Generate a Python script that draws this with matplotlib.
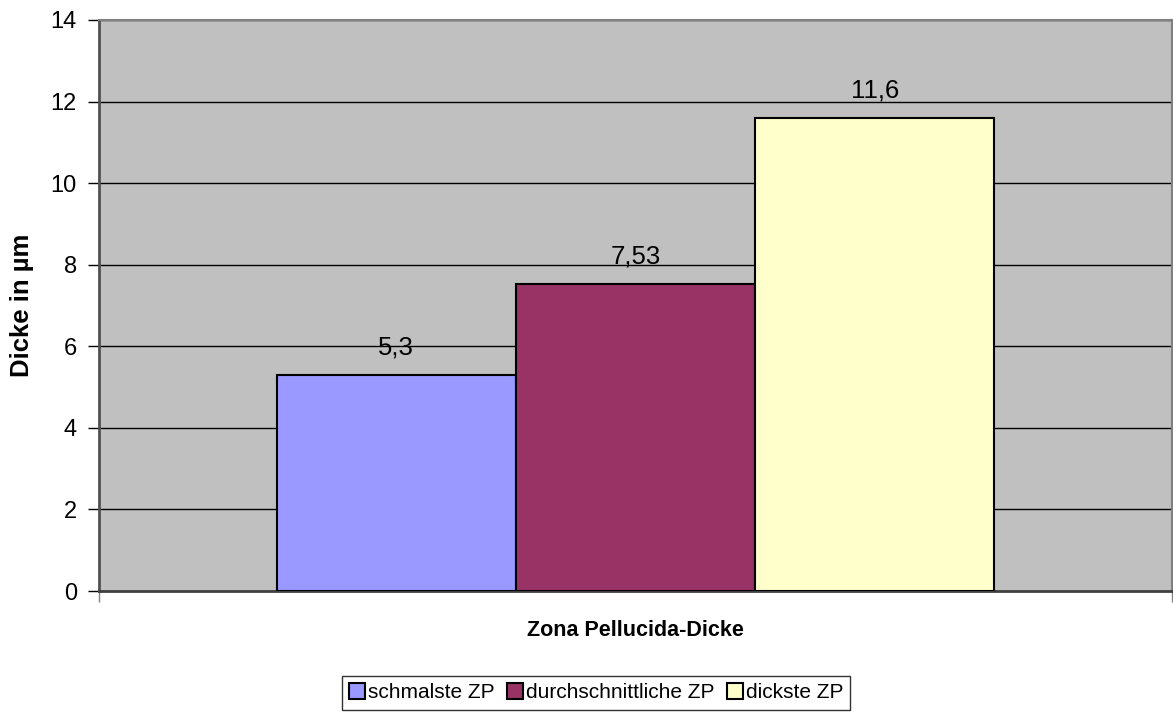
import matplotlib
matplotlib.use("Agg")
import matplotlib.pyplot as plt
from matplotlib.patches import Patch

series = ["schmalste ZP", "durchschnittliche ZP", "dickste ZP"]
values = [5.3, 7.53, 11.6]
labels = ["5,3", "7,53", "11,6"]
colors = ["#9999FF", "#993366", "#FFFFCC"]
yticks = [0, 2, 4, 6, 8, 10, 12, 14]

plt.rcParams['font.family'] = ['Liberation Sans', 'DejaVu Sans']

fig = plt.figure(figsize=(11.73, 7.13), dpi=100)
ax = fig.add_axes([99/1173, 1-591/713, (1172-99)/1173, (591-20)/713])
ax.set_facecolor("#C0C0C0")

x = [0, 1, 2]
half = 1072/239/2
ax.set_xlim(1-half, 1+half)
ax.set_ylim(0, 14)
ax.set_yticks(yticks)
ax.yaxis.grid(True, color="black", linewidth=1)
ax.set_axisbelow(True)

bars = ax.bar(x, values, width=1.0, color=colors, edgecolor="black", linewidth=1.5, zorder=3)
for xi, v, lab in zip(x, values, labels):
    ax.annotate(lab, (xi, v), xytext=(0, 14.4), textcoords="offset points",
                ha="center", va="baseline", fontsize=18.5)

ax.set_xticks([1-half, 1+half])
ax.set_xticklabels([])
ax.tick_params(axis='x', direction='out', length=8, width=1, color="#808080")
ax.tick_params(axis='y', direction='out', length=8, width=1, labelsize=17, pad=8)

for s in ["top", "right"]:
    ax.spines[s].set_color("#808080")
    ax.spines[s].set_linewidth(1.5)
ax.spines["left"].set_color("#505050")
ax.spines["left"].set_linewidth(2)
ax.spines["bottom"].set_color("#404040")
ax.spines["bottom"].set_linewidth(2)

ax.set_ylabel("Dicke in µm", fontsize=18.5, fontweight="bold", va="center")
ax.yaxis.set_label_coords(-(99-22)/1072, 0.5)
fig.text((99+1172)/2/1173, 1-631/713, "Zona Pellucida-Dicke", ha="center", va="center",
         fontsize=15.5, fontweight="bold")

handles = [Patch(facecolor=c, edgecolor="black", linewidth=1.5) for c in colors]
leg = fig.legend(handles, series, loc="upper left", bbox_to_anchor=(342/1173, 1-676/713),
                 ncol=3, fontsize=15, frameon=True, fancybox=False, borderaxespad=0,
                 handlelength=0.75, handleheight=0.75, handletextpad=0.15, columnspacing=0.6,
                 borderpad=0.35)
leg.get_frame().set_edgecolor("black")
leg.get_frame().set_linewidth(1)

fig.savefig("out.png", dpi=100)
